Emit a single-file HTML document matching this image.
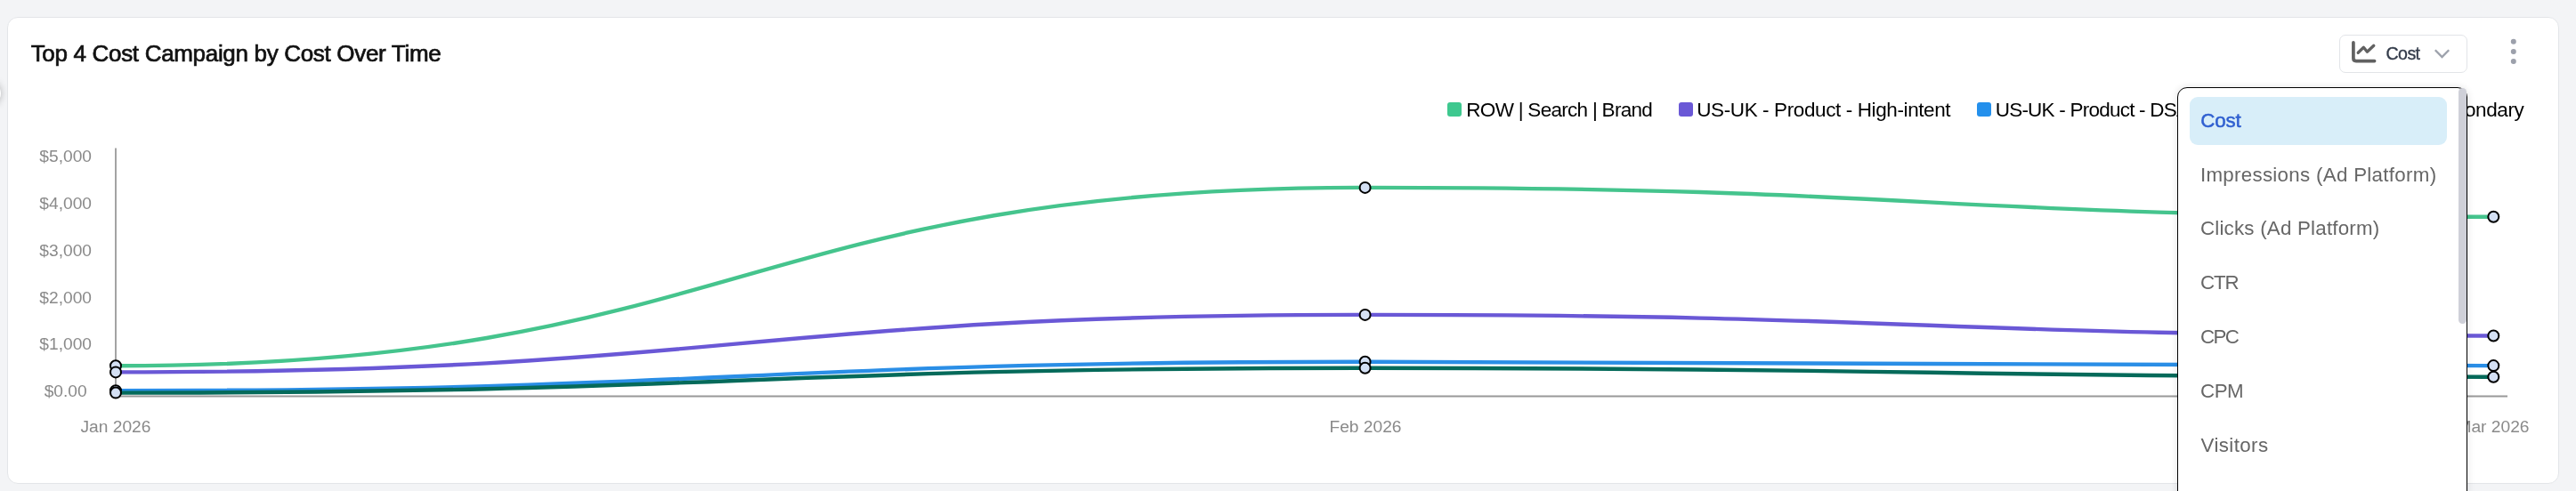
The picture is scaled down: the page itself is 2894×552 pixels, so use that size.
<!DOCTYPE html>
<html><head><meta charset="utf-8">
<style>
html,body{margin:0;padding:0;}
body{width:2894px;height:552px;overflow:hidden;background:#f3f4f6;position:relative;font-family:"Liberation Sans",sans-serif;}
#wrap{position:absolute;left:0;top:0;width:2894px;height:552px;will-change:transform;}
#card{position:absolute;left:8px;top:19px;width:2865px;height:523px;border:1px solid #e3e5e8;border-radius:12px;background:#fff;}
#blob{position:absolute;left:-25px;top:92px;width:26px;height:26px;border-radius:50%;background:#fff;box-shadow:0 0 8px rgba(0,0,0,0.28);}
#btn{position:absolute;left:2628px;top:39px;width:142px;height:41px;border:1px solid #e2e4e8;border-radius:7px;background:#fff;}
.sq{position:absolute;top:115px;width:16px;height:16px;border-radius:3px;}
svg{position:absolute;left:0;top:0;font-family:"Liberation Sans",sans-serif;}
#dd{position:absolute;left:2446px;top:98px;width:324px;height:470px;border:1.5px solid #000;border-radius:11px;background:#fff;box-shadow:0 0 8px rgba(0,0,0,0.12);}
#hl{position:absolute;left:2460px;top:109px;width:289px;height:54px;border-radius:9px;background:#d8eef9;}
#thumb{position:absolute;left:2762px;top:99px;width:9px;height:265px;border-radius:5px;background:#cfd0d8;}
</style></head><body><div id="wrap">
<div id="blob"></div>
<div id="card"></div>
<div id="btn"></div>
<div class="sq" style="left:1626px;background:#3ec88f"></div>
<div class="sq" style="left:1886px;background:#6a58d6"></div>
<div class="sq" style="left:2221px;background:#2490ec"></div>
<svg width="2894" height="552">
  <text x="34.7" y="69.3" font-size="26.0" letter-spacing="-0.32" fill="#111" stroke="#111" stroke-width="0.7">Top 4 Cost Campaign by Cost Over Time</text>
  <g fill="none" stroke="#616161" stroke-linecap="round" stroke-linejoin="round">
    <path d="M2643.9,47.8 V65.6 Q2643.9,68.6 2646.9,68.6 H2667.6" stroke-width="3.7"/>
    <path d="M2649.2,59.3 L2655.4,53.3 L2659.4,58.2 L2666.8,51.3" stroke-width="3.3"/>
  </g>
  <path d="M2735.8,56.3 L2743.5,64 L2751.2,56.3" fill="none" stroke="#9ca1ab" stroke-width="2.3"/>
  <g fill="#9ca0ab">
    <circle cx="2823.8" cy="46.7" r="3"/>
    <circle cx="2823.8" cy="58" r="3"/>
    <circle cx="2823.8" cy="69.1" r="3"/>
  </g>
  <text x="2680.6" y="66.7" font-size="19.6" letter-spacing="-0.63" fill="#333b4a" stroke="#333b4a" stroke-width="0.35">Cost</text>
  <text x="1647.3" y="130.7" font-size="22.5" letter-spacing="-0.71" fill="#000" >ROW | Search | Brand</text>
  <text x="1906.2" y="130.7" font-size="22.5" letter-spacing="-0.39" fill="#000" >US-UK - Product - High-intent</text>
  <text x="2241.7" y="130.7" font-size="22.5" letter-spacing="-0.774" fill="#000" >US-UK - Product - DSA</text>
  <text x="2835.4" y="130.7" font-size="22.5" letter-spacing="-0.39" fill="#000" text-anchor="end">Secondary</text>
  <g font-size="19.2" fill="#8a8a8a">
<text x="73.7" y="182.1" text-anchor="middle">$5,000</text>
<text x="73.7" y="234.9" text-anchor="middle">$4,000</text>
<text x="73.7" y="287.7" text-anchor="middle">$3,000</text>
<text x="73.7" y="340.5" text-anchor="middle">$2,000</text>
<text x="73.7" y="393.3" text-anchor="middle">$1,000</text>
<text x="73.7" y="446.1" text-anchor="middle">$0.00</text>
  <text x="130" y="486.1" text-anchor="middle">Jan 2026</text>
  <text x="1534" y="486.1" text-anchor="middle">Feb 2026</text>
  <text x="2801" y="486.1" text-anchor="middle">Mar 2026</text>
  </g>
  <line x1="130" y1="166.5" x2="130" y2="445.4" stroke="#999" stroke-width="1.8"/>
  <line x1="130" y1="445.4" x2="2817" y2="445.4" stroke="#999" stroke-width="2"/>
<path d="M130,411.3 C831.80,411.3 831.80,210.9 1533.6,210.9 C2167.45,210.9 2167.45,243.8 2801.3,243.8" fill="none" stroke="#45c48d" stroke-width="4.4"/>
<circle cx="130" cy="411.3" r="6" fill="#d4e0f4" stroke="#000" stroke-width="2"/>
<circle cx="1533.6" cy="210.9" r="6" fill="#d4e0f4" stroke="#000" stroke-width="2"/>
<circle cx="2801.3" cy="243.8" r="6" fill="#d4e0f4" stroke="#000" stroke-width="2"/>
<path d="M130,418.4 C831.80,418.4 831.80,353.9 1533.6,353.9 C2167.45,353.9 2167.45,377.5 2801.3,377.5" fill="none" stroke="#6a58d6" stroke-width="4.4"/>
<circle cx="130" cy="418.4" r="6" fill="#d4e0f4" stroke="#000" stroke-width="2"/>
<circle cx="1533.6" cy="353.9" r="6" fill="#d4e0f4" stroke="#000" stroke-width="2"/>
<circle cx="2801.3" cy="377.5" r="6" fill="#d4e0f4" stroke="#000" stroke-width="2"/>
<path d="M130,439.2 C831.80,439.2 831.80,406.8 1533.6,406.8 C2167.45,406.8 2167.45,411.1 2801.3,411.1" fill="none" stroke="#2a8ee6" stroke-width="4.4"/>
<circle cx="130" cy="439.2" r="6" fill="#d4e0f4" stroke="#000" stroke-width="2"/>
<circle cx="1533.6" cy="406.8" r="6" fill="#d4e0f4" stroke="#000" stroke-width="2"/>
<circle cx="2801.3" cy="411.1" r="6" fill="#d4e0f4" stroke="#000" stroke-width="2"/>
<path d="M130,441.6 C831.80,441.6 831.80,413.8 1533.6,413.8 C2167.45,413.8 2167.45,423.7 2801.3,423.7" fill="none" stroke="#056a5a" stroke-width="4.4"/>
<circle cx="130" cy="441.6" r="6" fill="#d4e0f4" stroke="#000" stroke-width="2"/>
<circle cx="1533.6" cy="413.8" r="6" fill="#d4e0f4" stroke="#000" stroke-width="2"/>
<circle cx="2801.3" cy="423.7" r="6" fill="#d4e0f4" stroke="#000" stroke-width="2"/>
</svg>
<div id="dd"></div>
<div id="hl"></div>
<svg width="2894" height="552">
  <text x="2472.2" y="142.9" font-size="22.3" letter-spacing="-0.13" fill="#2f5fd0" stroke="#2f5fd0" stroke-width="0.5">Cost</text>
<text x="2471.9" y="203.5" font-size="22.3" letter-spacing="0.31" fill="#666" >Impressions (Ad Platform)</text>
<text x="2471.9" y="264.2" font-size="22.3" letter-spacing="0.23" fill="#666" >Clicks (Ad Platform)</text>
<text x="2472.1" y="324.7" font-size="22.3" letter-spacing="-1.2" fill="#666" >CTR</text>
<text x="2472.1" y="385.5" font-size="22.3" letter-spacing="-1.6" fill="#666" >CPC</text>
<text x="2472.1" y="446.9" font-size="22.3" letter-spacing="-0.5" fill="#666" >CPM</text>
<text x="2472.6" y="508" font-size="22.3" letter-spacing="0.4" fill="#666" >Visitors</text>
</svg>
<div id="thumb"></div>
</div></body></html>
